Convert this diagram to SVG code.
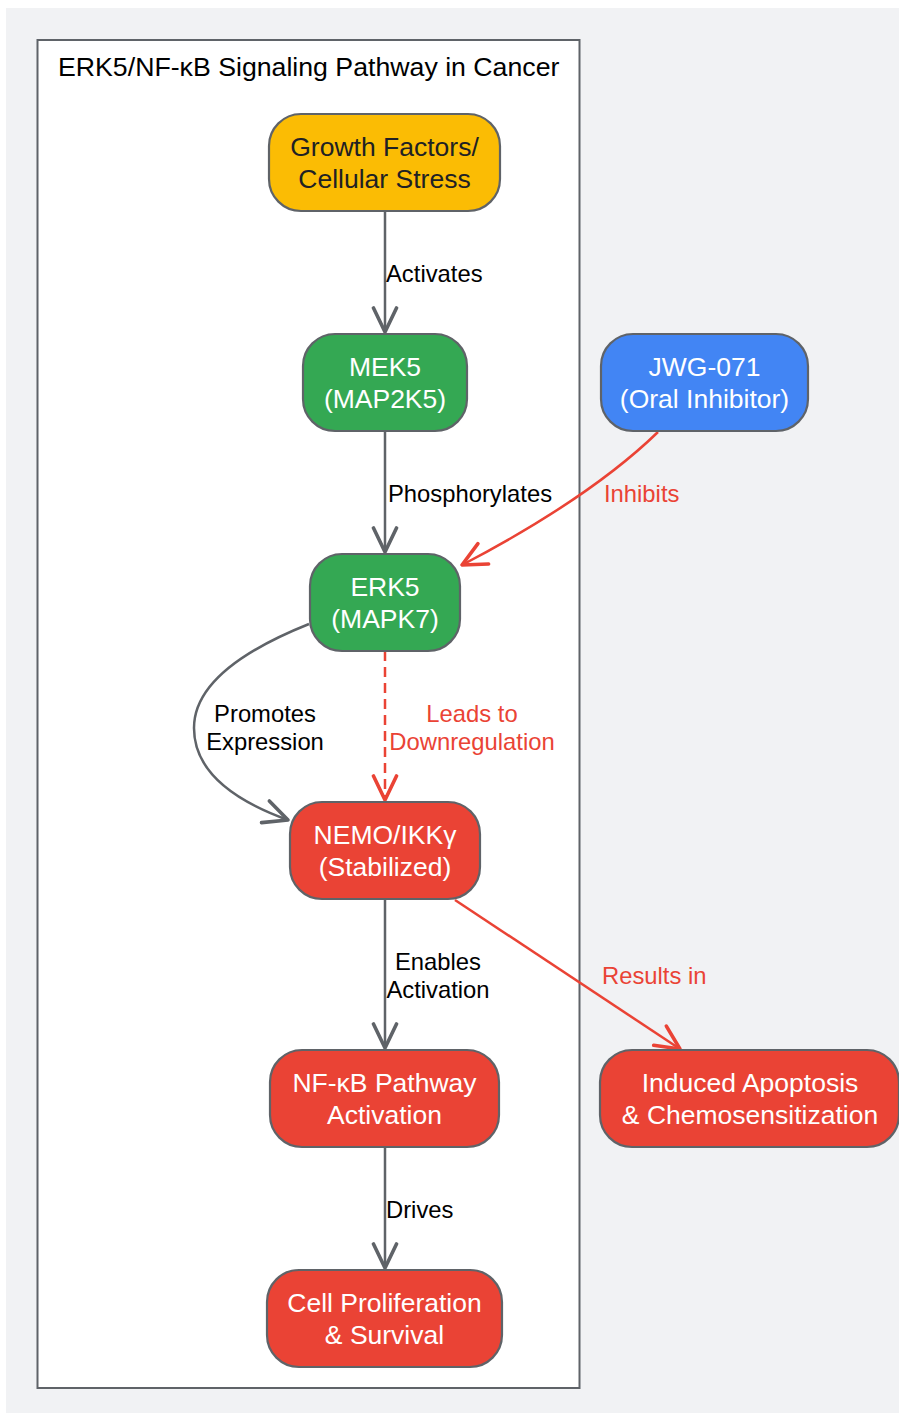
<svg xmlns="http://www.w3.org/2000/svg" width="899" height="1413" viewBox="0 0 899 1413">
<style>
.bg{fill:#f1f2f4}
.cluster{fill:#ffffff;stroke:#5f6368;stroke-width:2}
.node{stroke:#5f6368;stroke-width:2.2}
.yellow{fill:#fbbc04}
.green{fill:#34a853}
.blue{fill:#4285f4}
.red{fill:#ea4335}
.nt{font-family:"Liberation Sans",Arial,sans-serif;font-size:26.5px;text-anchor:middle;fill:#ffffff}
.nt.dark{fill:#202124}
.title{font-family:"Liberation Sans",Arial,sans-serif;font-size:26.7px;fill:#000000}
.el{font-family:"Liberation Sans",Arial,sans-serif;font-size:23.8px;fill:#000000}
.el.r{fill:#ea4335}
.e{fill:none;stroke:#5f6368;stroke-width:2.5}
.er{fill:none;stroke:#ea4335;stroke-width:2.5}
</style>
<defs>
<marker id="ag" viewBox="0 0 28 28" refX="26" refY="14" markerWidth="28" markerHeight="28" markerUnits="userSpaceOnUse" orient="auto">
<path d="M2,2.5 L26,14 L2,25.5" fill="none" stroke="#5f6368" stroke-width="3.6" stroke-linejoin="round" stroke-linecap="round"/>
</marker>
<marker id="ar" viewBox="0 0 28 28" refX="26" refY="14" markerWidth="28" markerHeight="28" markerUnits="userSpaceOnUse" orient="auto">
<path d="M2,2.5 L26,14 L2,25.5" fill="none" stroke="#ea4335" stroke-width="3.6" stroke-linejoin="round" stroke-linecap="round"/>
</marker>
</defs>
<rect class="bg" x="6" y="8" width="893" height="1405"/>
<g id="cluster">
<rect class="cluster" x="37.5" y="40" width="542" height="1348"/>
<text class="title" x="58" y="76">ERK5/NF-κB Signaling Pathway in Cancer</text>
</g>
<g id="connectors">
<line class="e" x1="385" y1="211" x2="385" y2="332" marker-end="url(#ag)"/>
<line class="e" x1="385" y1="431" x2="385" y2="552" marker-end="url(#ag)"/>
<path class="er" d="M658,432 Q590,498 462,565" marker-end="url(#ar)"/>
<path class="e" d="M309,624 Q194,670 194,728 Q194,786 288,820" marker-end="url(#ag)"/>
<line class="er" x1="385" y1="651" x2="385" y2="800" stroke-dasharray="10,6" marker-end="url(#ar)"/>
<line class="e" x1="385" y1="899" x2="385" y2="1048" marker-end="url(#ag)"/>
<line class="er" x1="455" y1="900" x2="680" y2="1049" marker-end="url(#ar)"/>
<line class="e" x1="385" y1="1147" x2="385" y2="1268" marker-end="url(#ag)"/>
<text class="el" x="386" y="282">Activates</text>
<text class="el" x="388" y="502">Phosphorylates</text>
<text class="el r" x="604" y="502">Inhibits</text>
<text class="el" x="265" y="722" text-anchor="middle">Promotes</text>
<text class="el" x="265" y="750" text-anchor="middle">Expression</text>
<text class="el r" x="472" y="722" text-anchor="middle">Leads to</text>
<text class="el r" x="472" y="750" text-anchor="middle">Downregulation</text>
<text class="el" x="438" y="970" text-anchor="middle">Enables</text>
<text class="el" x="438" y="998" text-anchor="middle">Activation</text>
<text class="el r" x="602" y="984">Results in</text>
<text class="el" x="386" y="1218">Drives</text>
</g>
<g id="growth">
<rect class="node yellow" x="269" y="114" width="231" height="97" rx="32"/>
<text class="nt dark" x="384.5" y="156">Growth Factors/</text>
<text class="nt dark" x="384.5" y="188">Cellular Stress</text>
</g>
<g id="mek5">
<rect class="node green" x="303" y="334" width="164" height="97" rx="32"/>
<text class="nt" x="385" y="376">MEK5</text>
<text class="nt" x="385" y="408">(MAP2K5)</text>
</g>
<g id="jwg">
<rect class="node blue" x="601" y="334" width="207" height="97" rx="32"/>
<text class="nt" x="704.5" y="376">JWG-071</text>
<text class="nt" x="704.5" y="408">(Oral Inhibitor)</text>
</g>
<g id="erk5">
<rect class="node green" x="310" y="554" width="150" height="97" rx="32"/>
<text class="nt" x="385" y="596">ERK5</text>
<text class="nt" x="385" y="628">(MAPK7)</text>
</g>
<g id="nemo">
<rect class="node red" x="290" y="802" width="190" height="97" rx="32"/>
<text class="nt" x="385" y="844">NEMO/IKKγ</text>
<text class="nt" x="385" y="876">(Stabilized)</text>
</g>
<g id="nfkb">
<rect class="node red" x="270" y="1050" width="229" height="97" rx="32"/>
<text class="nt" x="384.5" y="1092">NF-κB Pathway</text>
<text class="nt" x="384.5" y="1124">Activation</text>
</g>
<g id="apoptosis">
<rect class="node red" x="600" y="1050" width="299" height="97" rx="32"/>
<text class="nt" x="750" y="1092">Induced Apoptosis</text>
<text class="nt" x="750" y="1124">&amp; Chemosensitization</text>
</g>
<g id="cell">
<rect class="node red" x="267" y="1270" width="235" height="97" rx="32"/>
<text class="nt" x="384.5" y="1312">Cell Proliferation</text>
<text class="nt" x="384.5" y="1344">&amp; Survival</text>
</g>
</svg>
